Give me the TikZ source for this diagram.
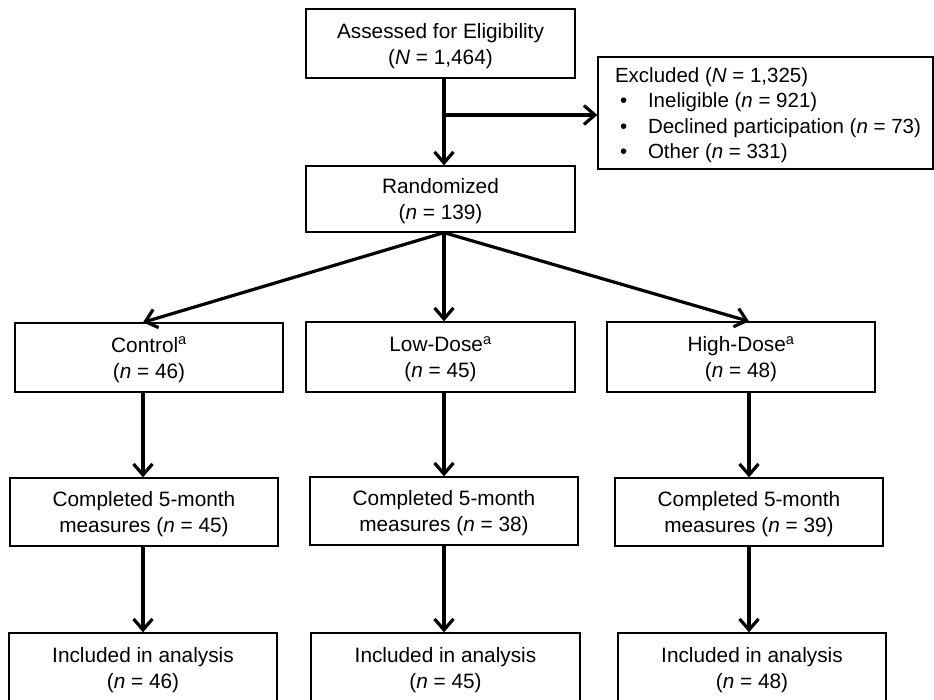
\documentclass[tikz,border=0pt]{standalone}
\usepackage{fontspec}
\setmainfont{Liberation Sans}
\usetikzlibrary{arrows.meta}
\begin{document}
\begin{tikzpicture}[x=1pt,y=-1pt,
  box/.style={draw, line width=1.3pt, align=center, inner sep=0pt, text depth=-3pt,
    font=\fontsize{20.8}{26}\selectfont},
  conn/.style={line width=3.2pt, -{Straight Barb[length=11pt,width=19pt,line width=3.2pt]}}]
\clip (0,0) rectangle (934,700);
\useasboundingbox (0,0) rectangle (934,700);
% row 1
\node[box, minimum width=269pt, minimum height=69pt] (assess) at (440.5,43.5)
  {Assessed for Eligibility\\(\textit{N} = 1,464)};
\node[box, minimum width=269pt, minimum height=66pt] (rand) at (440.5,199)
  {Randomized\\(\textit{n} = 139)};
\node[box, minimum width=335pt, minimum height=112pt, align=left,
  font=\fontsize{20.5}{25.5}\selectfont] (excl) at (765.5,113)
  {\hspace*{5pt}Excluded (\textit{N} = 1,325)\\
   \hspace*{10pt}\makebox[28pt][l]{\textbullet}Ineligible (\textit{n} = 921)\\
   \hspace*{10pt}\makebox[28pt][l]{\textbullet}Declined participation (\textit{n} = 73)\\
   \hspace*{10pt}\makebox[28pt][l]{\textbullet}Other (\textit{n} = 331)};
% row 2
\node[box, minimum width=268pt, minimum height=69pt] (ctrl) at (149,357.5)
  {Control\textsuperscript{a}\\(\textit{n} = 46)};
\node[box, minimum width=269pt, minimum height=70pt] (low) at (440.5,357)
  {Low-Dose\textsuperscript{a}\\(\textit{n} = 45)};
\node[box, minimum width=268pt, minimum height=70pt] (high) at (741,357)
  {High-Dose\textsuperscript{a}\\(\textit{n} = 48)};
% row 3
\node[box, minimum width=268pt, minimum height=68pt] (comp1) at (144,512)
  {Completed 5-month\\measures (\textit{n} = 45)};
\node[box, minimum width=268pt, minimum height=68pt] (comp2) at (444,511)
  {Completed 5-month\\measures (\textit{n} = 38)};
\node[box, minimum width=268pt, minimum height=68pt] (comp3) at (749,512)
  {Completed 5-month\\measures (\textit{n} = 39)};
% row 4
\node[box, minimum width=268pt, minimum height=70pt] (inc1) at (143,668)
  {Included in analysis\\(\textit{n} = 46)};
\node[box, minimum width=269pt, minimum height=70pt] (inc2) at (445.5,668)
  {Included in analysis\\(\textit{n} = 45)};
\node[box, minimum width=268pt, minimum height=70pt] (inc3) at (752,668)
  {Included in analysis\\(\textit{n} = 48)};
% column coordinates
\coordinate (cA) at (143,0);
\coordinate (cB) at (444,0);
\coordinate (cC) at (749,0);
\coordinate (branch) at (444,115);
% connectors
\draw[conn] (assess.south -| cB) -- (rand.north -| cB);
\draw[conn] (branch) -- (branch -| excl.west);
\draw[conn] (rand.south -| cB) -- (ctrl.north -| cA);
\draw[conn] (rand.south -| cB) -- (low.north -| cB);
\draw[conn] (rand.south -| cB) -- (high.north -| cC);
\draw[conn] (ctrl.south -| cA) -- (comp1.north -| cA);
\draw[conn] (low.south -| cB) -- (comp2.north -| cB);
\draw[conn] (high.south -| cC) -- (comp3.north -| cC);
\draw[conn] (comp1.south -| cA) -- (inc1.north -| cA);
\draw[conn] (comp2.south -| cB) -- (inc2.north -| cB);
\draw[conn] (comp3.south -| cC) -- (inc3.north -| cC);
\end{tikzpicture}
\end{document}
